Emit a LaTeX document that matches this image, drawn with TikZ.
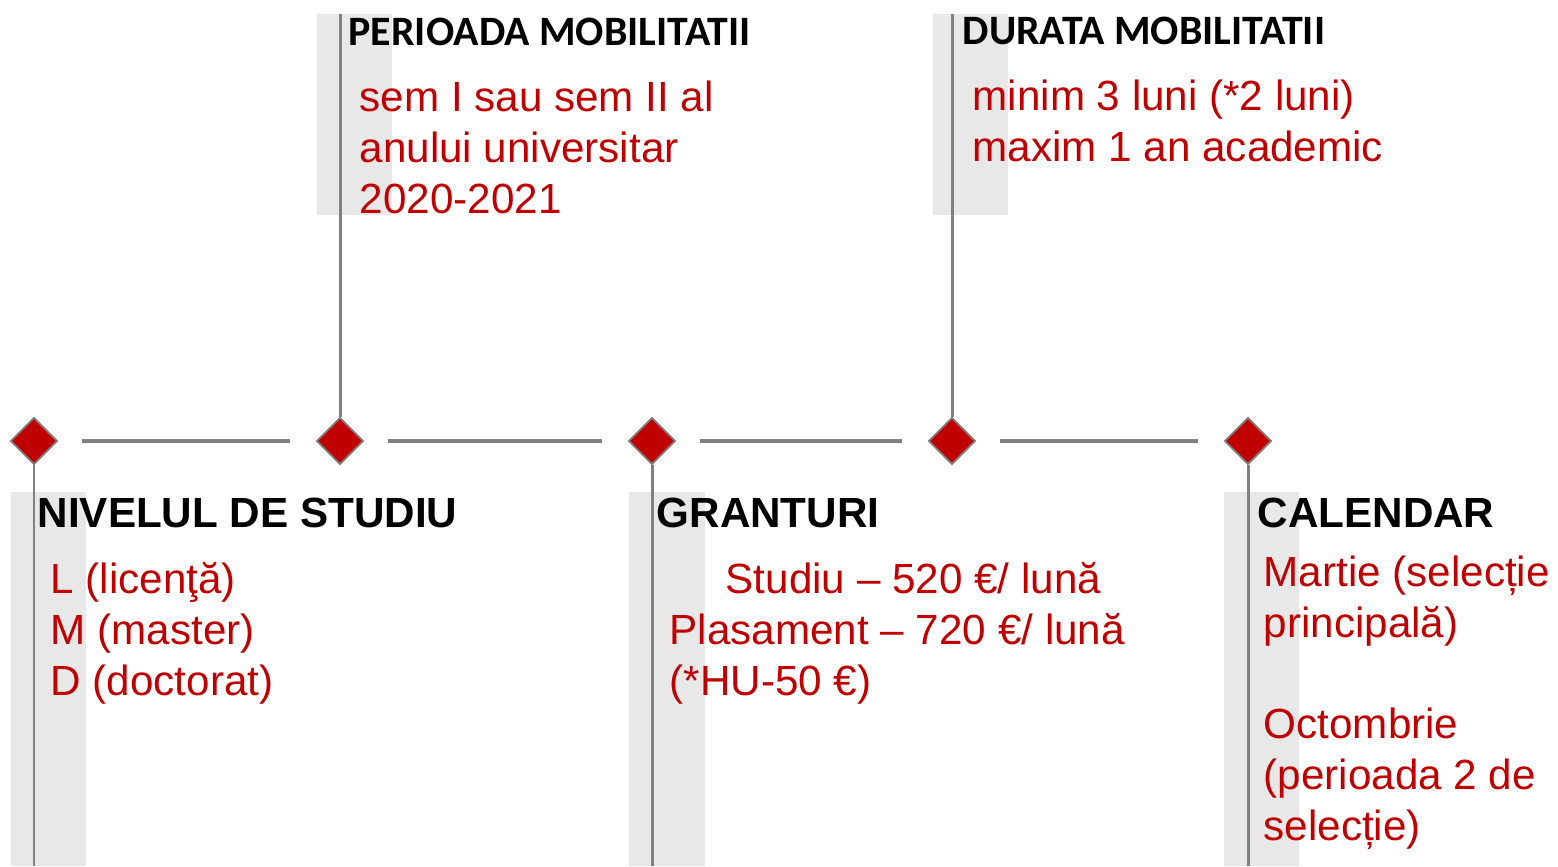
\documentclass[tikz,border=0pt]{standalone}
\usepackage{fontspec}
\setmainfont{Liberation Sans}
\newfontfamily\calibri{Carlito}
\usetikzlibrary{shapes.geometric}
\definecolor{ered}{HTML}{C00000}
\definecolor{eline}{HTML}{808080}
\definecolor{eband}{HTML}{E8E8E8}
\begin{document}
\begin{tikzpicture}[x=0.01cm, y=-0.01cm,
    stage/.style={diamond, aspect=1, minimum size=0.47cm, inner sep=0pt, fill=ered, draw=eline, line width=0.5pt},
    axis/.style={eline, line width=1pt, shorten <=0.24cm, shorten >=0.26cm},
    stem/.style={eline, line width=0.85pt},
    band/.style={fill=eband, draw=none},
    head/.style={anchor=base west, inner sep=0pt, font=\fontsize{12}{14.4}\selectfont\bfseries},
    info/.style={anchor=base west, inner sep=0pt, align=left, text=ered, font=\fontsize{12}{14.4}\selectfont}]
    \useasboundingbox (0,0) rectangle (1558,866);
    \coordinate (top) at (0,14);
    \coordinate (bot) at (0,866);
    % Grey bands
    \fill[band] (317,14) rectangle (392,215);
    \fill[band] (933,14) rectangle (1008,215);
    \fill[band] (11,492) rectangle (86,866);
    \fill[band] (629,492) rectangle (705,866);
    \fill[band] (1224,492) rectangle (1299,866);
    % Stages on the timeline
    \node[stage] (niv) at (34,441) {};
    \node[stage] (per) at (340,441) {};
    \node[stage] (gra) at (652,441) {};
    \node[stage] (dur) at (952,441) {};
    \node[stage] (cal) at (1248,441) {};
    % Timeline pieces
    \draw[axis] (niv) -- (per);
    \draw[axis] (per) -- (gra);
    \draw[axis] (gra) -- (dur);
    \draw[axis] (dur) -- (cal);
    % Stems up and down
    \draw[stem] (per.north) -- (per.north |- top);
    \draw[stem] (dur.north) -- (dur.north |- top);
    \draw[stem] (niv.south) -- (niv.south |- bot);
    \draw[stem] (gra.south) -- (gra.south |- bot);
    \draw[stem] (cal.south) -- (cal.south |- bot);
    % "Perioada" block (text placed by its last line)
    \node[head, font=\fontsize{11.9}{14.4}\selectfont\calibri\bfseries] (perH) at (348,45) {PERIOADA MOBILITATII};
    \node[info] (perT) at (359,213) {sem I sau sem II al\\anului universitar\\2020-2021};
    % "Durata" block
    \node[head, font=\fontsize{11.9}{14.4}\selectfont\calibri\bfseries] (durH) at (962,44) {DURATA MOBILITATII};
    \node[info] (durT) at (972,161) {minim 3 luni (*2 luni)\\maxim 1 an academic};
    % "Nivelul" block
    \node[head] (nivH) at (37,527) {NIVELUL DE STUDIU};
    \node[info] (nivT) at (50,695) {L (licenţă)\\M (master)\\D (doctorat)};
    % "Granturi" block
    \node[head] (graH) at (656,527) {GRANTURI};
    \node[info] (graT) at (669,695) {\hspace*{0.56cm}Studiu – 520 €/ lună\\Plasament – 720 €/ lună\\(*HU-50 €)};
    % "Calendar" block
    \node[head] (calH) at (1257,527) {CALENDAR};
    \node[info] (calT) at (1263,840) {Martie (selecție\\principală)\\[14.4pt]Octombrie\\(perioada 2 de\\selecție)};
\end{tikzpicture}
\end{document}
